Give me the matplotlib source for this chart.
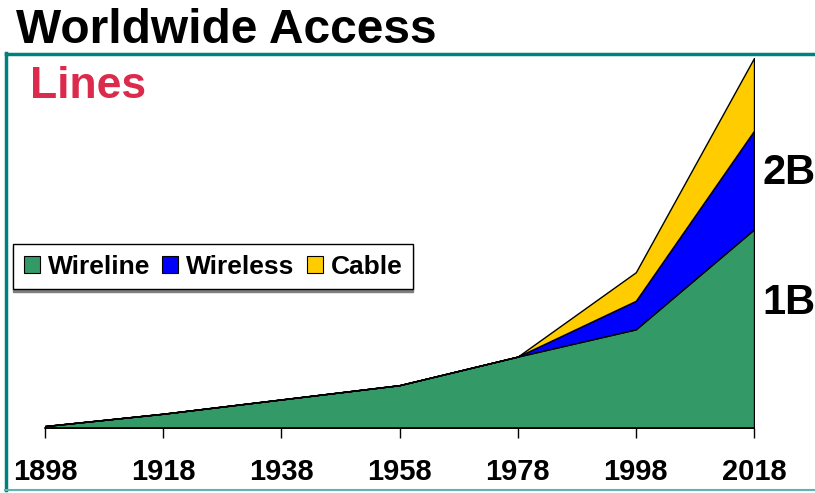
import matplotlib
matplotlib.use("Agg")
import matplotlib.pyplot as plt
from matplotlib.lines import Line2D
from matplotlib.patches import Patch

years = [1898, 1918, 1938, 1958, 1978, 1998, 2018]
wireline = [0.015, 0.11, 0.22, 0.33, 0.55, 0.76, 1.53]
wireless = [0.0, 0.0, 0.0, 0.0, 0.0, 0.22, 0.76]
cable = [0.0, 0.0, 0.0, 0.0, 0.0, 0.22, 0.56]
series_names = ["Wireline", "Wireless", "Cable"]
colors = ["#339966", "#0000FF", "#FFCC00"]
ytick_vals = [1, 2]
ytick_labels = ["1B", "2B"]

base = "Liberation Sans"

fig = plt.figure(figsize=(8.15, 4.93), dpi=100)
ax = fig.add_axes([45/815, 65/493, 709/815, 370/493])

ax.stackplot(years, wireline, wireless, cable, colors=colors,
             edgecolor="black", linewidth=1.0)
ax.set_xlim(years[0], years[-1])
ax.set_ylim(0, 2.85)
for s in ["top", "left", "right"]:
    ax.spines[s].set_visible(False)
ax.spines["bottom"].set_linewidth(1.2)
ax.set_xticks(years)
ax.set_xticklabels([str(y) for y in years], fontfamily=base, fontweight="bold", fontsize=21)
ax.tick_params(axis="x", direction="out", length=7.5, width=1, pad=14)
ax.yaxis.tick_right()
ax.set_yticks(ytick_vals)
ax.set_yticklabels(ytick_labels, fontfamily=base, fontweight="bold", fontsize=30)
ax.tick_params(axis="y", length=0, pad=6)

handles = [Patch(facecolor=c, edgecolor="black", linewidth=0.8) for c in colors]
leg = fig.legend(handles, series_names, loc="upper left",
                 bbox_to_anchor=(13/815, 1 - 244/493), ncol=3,
                 prop={"family": base, "weight": "bold", "size": 19},
                 frameon=True, fancybox=False,
                 shadow={"color": "#7f7f7f", "alpha": 1.0, "ox": 0, "oy": -2},
                 handlelength=0.62, handleheight=0.62, handletextpad=0.3,
                 columnspacing=0.45, borderpad=0.4, borderaxespad=0)
leg.get_frame().set_edgecolor("black")
leg.get_frame().set_linewidth(1)

fig.text(16/815, 1 - 43/493, "Worldwide Access", fontfamily=base, fontweight="bold",
         fontsize=34.5, color="black", va="baseline", ha="left")
fig.text(30/815, 1 - 98/493, "Lines", fontfamily=base, fontweight="bold",
         fontsize=32, color="#DC2A4C", va="baseline", ha="left")

teal = "#008080"
fig.add_artist(Line2D([6/815, 1], [1 - 53.5/493, 1 - 53.5/493], color=teal, lw=2.5,
                      transform=fig.transFigure))
fig.add_artist(Line2D([6/815, 6/815], [1 - 53/493, 1 - 490/493], color=teal, lw=2.5,
                      transform=fig.transFigure))
fig.add_artist(Line2D([5/815, 1], [1 - 490/493, 1 - 490/493], color="#5FB3B3", lw=1.5,
                      transform=fig.transFigure))

fig.savefig("out.png", dpi=100)
